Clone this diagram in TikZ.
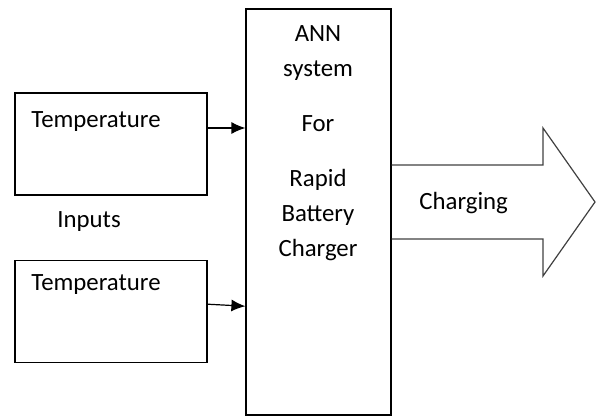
\documentclass[tikz,border=0pt]{standalone}
\usepackage{fontspec}
\setmainfont{Carlito}
\usepackage{tikz}
\usetikzlibrary{arrows.meta, positioning}

\begin{document}
\begin{tikzpicture}[
        x=0.5pt, y=-0.5pt,
        node distance=32pt and 19.5pt,
        inputNode/.style={rectangle, draw, line width=0.6pt, minimum width=96pt, minimum height=51pt},
        mainNode/.style={rectangle, draw, line width=0.6pt, minimum width=72.5pt, minimum height=203pt},
        textNode/.style={inner sep=0pt, font=\fontsize{12.4}{17.5}\selectfont},
        arrow/.style={-{Latex[length=7pt, width=6pt]}, line width=0.6pt},
        bigArrow/.style={draw=black!75, line width=0.6pt}
    ]
        \useasboundingbox (0,0) rectangle (597,417);

        \node[inputNode] (tempTop) at (111,144) {};
        \node[inputNode, below=32pt of tempTop] (tempBottom) {};
        \node[mainNode] (annBox) at (318.5,212) {};

        \node[textNode, anchor=west] (tempTopText) at (31,122) {Temperature};
        \node[textNode, anchor=west] (tempBottomText) at (31,285) {Temperature};
        \node[textNode, anchor=west] (inputsText) at (57,222) {Inputs};
        \node[textNode, align=center] (annText) at (318,143) {ANN\\system\\[10pt]For\\[10pt]Rapid\\Battery\\Charger};

        \draw[arrow] ([yshift=8pt]tempTop.east) -- ([yshift=8pt]tempTop.east -| annBox.west);
        \draw[arrow] ([yshift=3.5pt]tempBottom.east) -- ([yshift=2.5pt]tempBottom.east -| annBox.west);

        \draw[bigArrow] (annBox.east |- 0,165) -- (543,165) -- (543,128) -- (595,202) -- (543,276) -- (543,239) -- (annBox.east |- 0,239);
        \node[textNode, anchor=west] (chargingText) at (419,203) {Charging};
    \end{tikzpicture}
\end{document}
